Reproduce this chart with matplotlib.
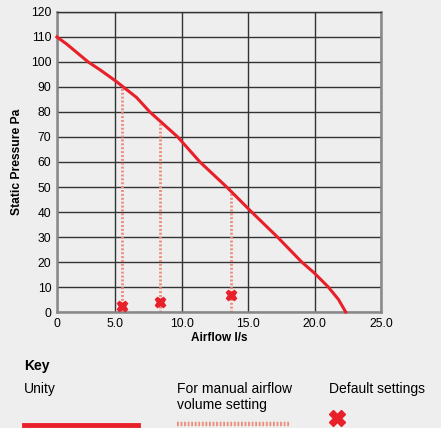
import matplotlib.pyplot as plt
from matplotlib.lines import Line2D
import numpy as np

plt.rcParams['font.family'] = ['Liberation Sans', 'DejaVu Sans']

# fan curve (Unity)
airflow = [0.6, 1.33, 2.96, 3.84, 5.0, 5.6, 6.6, 7.6, 9.7, 11.37, 13.38, 15.26,
           17.2, 19.03, 20.0, 21.03, 21.8, 22.34]
pressure = [110, 107.2, 100, 96.9, 92.5, 90, 85.8, 80, 70, 60, 50, 40,
            30, 20, 15.5, 10, 5, 0]

# manual settings / default points
manual_x = [5.47, 8.36, 13.68]
manual_top = [90.5, 76.4, 48.4]
default_y = [2.6, 3.9, 6.7]

xticks = [0.6, 5, 10, 15, 20, 25]
xtick_labels = ['0', '5.0', '10.0', '15.0', '20.0', '25.0']
yticks = list(range(0, 121, 10))

bg = '#eeeeee'
red = '#e8202a'
salmon = '#f08a78'

fig = plt.figure(figsize=(4.41, 4.28), dpi=100, facecolor=bg)
ax = fig.add_axes([0.129, 0.271, 0.735, 0.701])
ax.set_facecolor(bg)

ax.set_xlim(0.6, 25)
ax.set_ylim(0, 120)
ax.set_xticks(xticks)
ax.set_xticklabels(xtick_labels)
ax.set_yticks(yticks)
ax.grid(True, color='#333333', linewidth=1.0)
ax.set_axisbelow(True)
for s in ax.spines.values():
    s.set_color('#888888')
    s.set_linewidth(1.8)
ax.spines['top'].set_color('#333333')
ax.spines['top'].set_linewidth(1.0)
ax.tick_params(length=0, labelsize=8.7, pad=4)

ax.vlines(manual_x, 0, manual_top, colors=salmon, linestyles=(0, (0.7, 0.7)), linewidth=2.0, zorder=2)
ax.plot(airflow, pressure, color=red, linewidth=2.2, zorder=3, clip_on=False)
ax.plot(manual_x, default_y, linestyle='none', marker='X', markersize=7.5,
        color=red, markeredgecolor=red, zorder=4, clip_on=False)

ax.set_xlabel('Airflow l/s', fontsize=8.5, fontweight='bold', labelpad=2)
ax.set_ylabel('Static Pressure Pa', fontsize=8.7, fontweight='bold', labelpad=6)

# key below the chart
fig.text(24 / 441, 1 - 366 / 428, 'Key', fontsize=10, fontweight='bold', va='center')
fig.text(24 / 441, 1 - 389 / 428, 'Unity', fontsize=10, va='center')
fig.text(177 / 441, 1 - 397 / 428, 'For manual airflow\nvolume setting', fontsize=10,
         va='center', linespacing=1.1)
fig.text(329 / 441, 1 - 389 / 428, 'Default settings', fontsize=10, va='center')
fig.add_artist(Line2D([24 / 441, 138 / 441], [1 - 425 / 428] * 2, color=red, linewidth=3.5))
fig.add_artist(Line2D([177 / 441, 290 / 441], [1 - 424 / 428] * 2, color=salmon,
                      linewidth=3.2, linestyle=(0, (0.4, 0.4))))
fig.add_artist(Line2D([337 / 441], [1 - 418 / 428], marker='X', markersize=11, color=red,
                      linestyle='none'))

fig.savefig('out.png', dpi=100, facecolor=bg)
